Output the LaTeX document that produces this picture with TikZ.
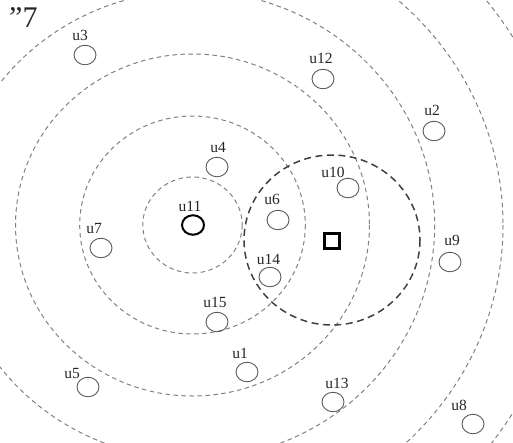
\documentclass[tikz,border=0pt]{standalone}
\usepackage{fontspec}
\setmainfont{Liberation Serif}
\usetikzlibrary{shapes.geometric}
\begin{document}
\begin{tikzpicture}[x=1pt,y=-1pt,
  ring/.style={draw=black!50, line width=1pt, dash pattern=on 4.5pt off 3.5pt},
  rangec/.style={draw=black!75, line width=1.5pt, dash pattern=on 7pt off 4.5pt},
  user/.style={ellipse, draw=black!65, line width=0.9pt, minimum width=22pt, minimum height=19.5pt, inner sep=0pt},
  lbl/.style={font=\fontsize{15.5}{15.5}\selectfont, inner sep=0pt, anchor=base, text=black!85}]
\useasboundingbox (0,0) rectangle (513,442);
\begin{scope}
\clip (0,0) rectangle (513,442);
\foreach \r in {48,109,171,234,300,362}{
  \pgfmathsetmacro{\rx}{1.035*\r}
  \draw[ring] (192.5,225) ellipse [x radius=\rx, y radius=\r];
}
\draw[rangec] (332,240) ellipse [x radius=88, y radius=85];
\end{scope}
% top-left fragment
\node[anchor=north west, inner sep=0pt, font=\fontsize{30}{30}\selectfont, text=black!85] (frag) at (9,7) {''7};
% users
\node[user] (u3) at (85,55) {};
\node[user] (u12) at (323,79) {};
\node[user] (u2) at (434,131) {};
\node[user] (u4) at (217,167) {};
\node[user] (u10) at (348,188) {};
\node[user, draw=black, line width=2pt] (u11) at (193,225) {};
\node[user] (u6) at (278,220) {};
\node[user] (u14) at (270,277) {};
\node[user] (u7) at (101,248) {};
\node[user] (u9) at (450,262) {};
\node[user] (u15) at (217,322) {};
\node[user] (u1) at (247,372) {};
\node[user] (u5) at (88,387) {};
\node[user] (u13) at (333,402) {};
\node[user] (u8) at (473,424) {};
% base station square
\node[draw=black, line width=2.2pt, minimum size=15pt, inner sep=0pt] (bs) at (332,241) {};
% labels
\node[lbl] (l3) at (80,40) {u3};
\node[lbl] (l12) at (321,63) {u12};
\node[lbl] (l2) at (432,115) {u2};
\node[lbl] (l4) at (218,152) {u4};
\node[lbl] (l10) at (333,177) {u10};
\node[lbl] (l11) at (190,211) {u11};
\node[lbl] (l6) at (272,204) {u6};
\node[lbl] (l14) at (268.5,264) {u14};
\node[lbl] (l7) at (94,233) {u7};
\node[lbl] (l9) at (452,245) {u9};
\node[lbl] (l15) at (215,307) {u15};
\node[lbl] (l1) at (240,358) {u1};
\node[lbl] (l5) at (72,378) {u5};
\node[lbl] (l13) at (337,388) {u13};
\node[lbl] (l8) at (459,410) {u8};
\end{tikzpicture}
\end{document}
